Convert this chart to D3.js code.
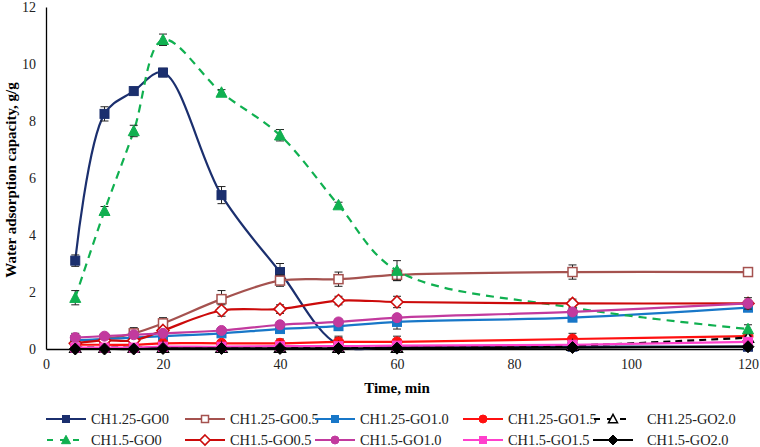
<!DOCTYPE html>
<html>
<head>
<meta charset="utf-8">
<script src="https://cdn.jsdelivr.net/npm/d3@7"></script>
<style>
  body { margin: 0; background: #fff; }
  svg text { font-family: "Liberation Serif", "Times New Roman", Times, "DejaVu Serif", serif !important; }
</style>
</head>
<body>
<svg id="chart" width="760" height="447"></svg>
<script>
// Data
const times = [5, 10, 15, 20, 30, 40, 50, 60, 90, 120];
const xTicks = [0, 20, 40, 60, 80, 100, 120];
const yTicks = [0, 2, 4, 6, 8, 10, 12];

const names = ['CH1.25-GO0', 'CH1.25-GO0.5', 'CH1.25-GO1.0', 'CH1.25-GO1.5', 'CH1.25-GO2.0',
               'CH1.5-GO0', 'CH1.5-GO0.5', 'CH1.5-GO1.0', 'CH1.5-GO1.5', 'CH1.5-GO2.0'];

const ch125go0   = [3.1, 8.25, 9.05, 9.7, 5.4, 2.7, 0.15, 0.08, 0.08, 0.08];
const ch125go05  = [0.3, 0.35, 0.55, 0.9, 1.75, 2.4, 2.45, 2.6, 2.7, 2.7];
const ch125go10  = [0.3, 0.35, 0.4, 0.45, 0.55, 0.7, 0.8, 0.95, 1.1, 1.45];
const ch125go15  = [0.15, 0.15, 0.15, 0.2, 0.2, 0.2, 0.25, 0.25, 0.35, 0.45];
const ch125go20  = [0.05, 0.05, 0.05, 0.05, 0.05, 0.05, 0.05, 0.05, 0.12, 0.4];
const ch15go0    = [1.8, 4.85, 7.65, 10.85, 9.0, 7.5, 5.05, 2.75, 1.45, 0.7];
const ch15go05   = [0.2, 0.3, 0.3, 0.65, 1.35, 1.4, 1.7, 1.65, 1.6, 1.6];
const ch15go10   = [0.4, 0.45, 0.5, 0.55, 0.65, 0.85, 0.95, 1.1, 1.3, 1.6];
const ch15go15   = [0.05, 0.05, 0.05, 0.08, 0.08, 0.1, 0.1, 0.12, 0.15, 0.25];
const ch15go20   = [0.0, 0.0, 0.0, 0.02, 0.02, 0.02, 0.02, 0.03, 0.05, 0.08];

const err125go0  = [0.2, 0.25, 0.1, 0.15, 0.3, 0.3, 0.3, 0.1, 0.1, 0.1];
const err125go05 = [0.15, 0.15, 0.2, 0.2, 0.3, 0.2, 0.25, 0.2, 0.25, 0.1];
const err125go10 = [0.1, 0.1, 0.1, 0.1, 0.1, 0.1, 0.15, 0.25, 0.1, 0.1];
const err125go15 = [0.1, 0.1, 0.1, 0.1, 0.1, 0.15, 0.15, 0.2, 0.2, 0.1];
const err125go20 = [0.05, 0.05, 0.05, 0.05, 0.05, 0.05, 0.05, 0.05, 0.05, 0.05];
const err15go0   = [0.25, 0.15, 0.2, 0.2, 0.1, 0.2, 0.1, 0.35, 0.1, 0.15];
const err15go05  = [0.1, 0.1, 0.1, 0.1, 0.2, 0.15, 0.15, 0.2, 0.15, 0.1];
const err15go10  = [0.15, 0.1, 0.1, 0.1, 0.1, 0.1, 0.1, 0.1, 0.1, 0.2];
const err15go15  = [0.05, 0.05, 0.05, 0.05, 0.05, 0.05, 0.05, 0.05, 0.05, 0.05];
const err15go20  = [0.05, 0.05, 0.05, 0.05, 0.05, 0.05, 0.05, 0.05, 0.05, 0.05];

const values = [ch125go0, ch125go05, ch125go10, ch125go15, ch125go20,
                ch15go0, ch15go05, ch15go10, ch15go15, ch15go20];
const errors = [err125go0, err125go05, err125go10, err125go15, err125go20,
                err15go0, err15go05, err15go10, err15go15, err15go20];

// styles per series
const styles = [
  { color: '#1b2f6e', marker: 'square', fill: true,  dash: null },
  { color: '#a5524f', marker: 'square', fill: false, dash: null },
  { color: '#1877c8', marker: 'square', fill: true,  dash: null },
  { color: '#ff1010', marker: 'circle', fill: true,  dash: null },
  { color: '#000000', marker: 'triangle', fill: false, dash: '7,5' },
  { color: '#10b050', marker: 'triangle', fill: true, dash: '8,6' },
  { color: '#cc0a0a', marker: 'diamond', fill: false, dash: null },
  { color: '#c23a9e', marker: 'circle', fill: true,  dash: null },
  { color: '#ff40cc', marker: 'square', fill: true,  dash: null },
  { color: '#000000', marker: 'diamond', fill: true,  dash: null }
];

const svg = d3.select('#chart');

let x = d3.scaleLinear().domain([0, 120]).range([46, 748]);
let y = d3.scaleLinear().domain([0, 12]).range([349, 7]);

// Axes
let xAxis = svg.append('g')
  .attr('transform', `translate(0, ${y(0)})`)
  .call(d3.axisBottom(x).tickValues(xTicks).tickSize(0).tickPadding(10));
xAxis.select('.domain').attr('stroke', '#000').attr('stroke-width', 1.3);
xAxis.selectAll('text').attr('font-size', 14).attr('fill', '#222');

let yAxis = svg.append('g')
  .attr('transform', `translate(${x(0)}, 0)`)
  .call(d3.axisLeft(y).tickValues(yTicks).tickSize(0).tickPadding(10));
yAxis.select('.domain').attr('stroke', '#000').attr('stroke-width', 1.3);
yAxis.selectAll('text').attr('font-size', 14).attr('fill', '#222');

// Axis titles
svg.append('text')
  .attr('x', 397).attr('y', 393)
  .attr('text-anchor', 'middle')
  .attr('font-size', 15).attr('font-weight', 'bold')
  .text('Time, min');

svg.append('text')
  .attr('transform', `translate(16, 180) rotate(-90)`)
  .attr('text-anchor', 'middle')
  .attr('font-size', 15).attr('font-weight', 'bold')
  .text('Water adsorption capacity, g/g');

function drawMarker(g, st, cx, cy, size) {
  let fill = st.fill ? st.color : '#fff';
  if (st.marker === 'square') {
    g.append('rect')
      .attr('x', cx - size / 2).attr('y', cy - size / 2)
      .attr('width', size).attr('height', size)
      .attr('fill', fill).attr('stroke', st.color).attr('stroke-width', st.fill ? 1 : 1.5);
  } else if (st.marker === 'circle') {
    g.append('circle')
      .attr('cx', cx).attr('cy', cy).attr('r', size / 2 + 0.5)
      .attr('fill', fill).attr('stroke', st.color);
  } else if (st.marker === 'triangle') {
    let h = size * 1.05;
    g.append('path')
      .attr('d', `M${cx},${cy - h / 2 - 1} L${cx + size / 2 + 1},${cy + h / 2} L${cx - size / 2 - 1},${cy + h / 2} Z`)
      .attr('fill', fill).attr('stroke', st.color).attr('stroke-width', st.fill ? 1 : 1.5);
  } else if (st.marker === 'diamond') {
    let r = size / 2 + 1.5;
    g.append('path')
      .attr('d', `M${cx},${cy - r} L${cx + r},${cy} L${cx},${cy + r} L${cx - r},${cy} Z`)
      .attr('fill', fill).attr('stroke', st.color).attr('stroke-width', st.fill ? 1 : 1.6);
  }
}

let line = d3.line()
  .x((d) => x(d.t))
  .y((d) => y(d.v))
  .curve(d3.curveCatmullRom.alpha(0.5));

values.forEach((vals, i) => {
  let st = styles[i];
  let data = times.map((t, j) => ({ t: t, v: vals[j], e: errors[i][j] }));
  let g = svg.append('g').attr('class', 'series');

  g.append('path')
    .datum(data)
    .attr('fill', 'none')
    .attr('stroke', st.color)
    .attr('stroke-width', 2.2)
    .attr('stroke-dasharray', st.dash)
    .attr('d', line);

  // error bars
  let eb = g.append('g').attr('class', 'errors');
  data.forEach((d) => {
    eb.append('line')
      .attr('x1', x(d.t)).attr('x2', x(d.t))
      .attr('y1', y(d.v + d.e)).attr('y2', y(Math.max(0, d.v - d.e)))
      .attr('stroke', '#222').attr('stroke-width', 1);
    [d.v + d.e, Math.max(0, d.v - d.e)].forEach((ev) => {
      eb.append('line')
        .attr('x1', x(d.t) - 4).attr('x2', x(d.t) + 4)
        .attr('y1', y(ev)).attr('y2', y(ev))
        .attr('stroke', '#222').attr('stroke-width', 1);
    });
  });

  let mg = g.append('g').attr('class', 'markers');
  data.forEach((d) => drawMarker(mg, st, x(d.t), y(d.v), 9));
});

// Legend
const legendCols = [46, 185, 315, 463, 593];
const legendRows = [419, 440];
let legend = svg.append('g').attr('class', 'legend');
names.forEach((name, i) => {
  let st = styles[i];
  let lx = legendCols[i % 5];
  let ly = legendRows[Math.floor(i / 5)];
  let item = legend.append('g');
  item.append('line')
    .attr('x1', lx).attr('x2', lx + 40)
    .attr('y1', ly).attr('y2', ly)
    .attr('stroke', st.color).attr('stroke-width', 2.2)
    .attr('stroke-dasharray', st.dash ? '6,7' : null)
    .attr('stroke-dashoffset', st.dash ? -1 : null);
  drawMarker(item, st, lx + 20, ly, 7);
  item.append('text')
    .attr('x', i % 5 === 4 ? lx + 54 : lx + 45)
    .attr('y', ly + 5)
    .attr('font-size', 14.4)
    .attr('fill', '#222')
    .text(name);
});
</script>
</body>
</html>
